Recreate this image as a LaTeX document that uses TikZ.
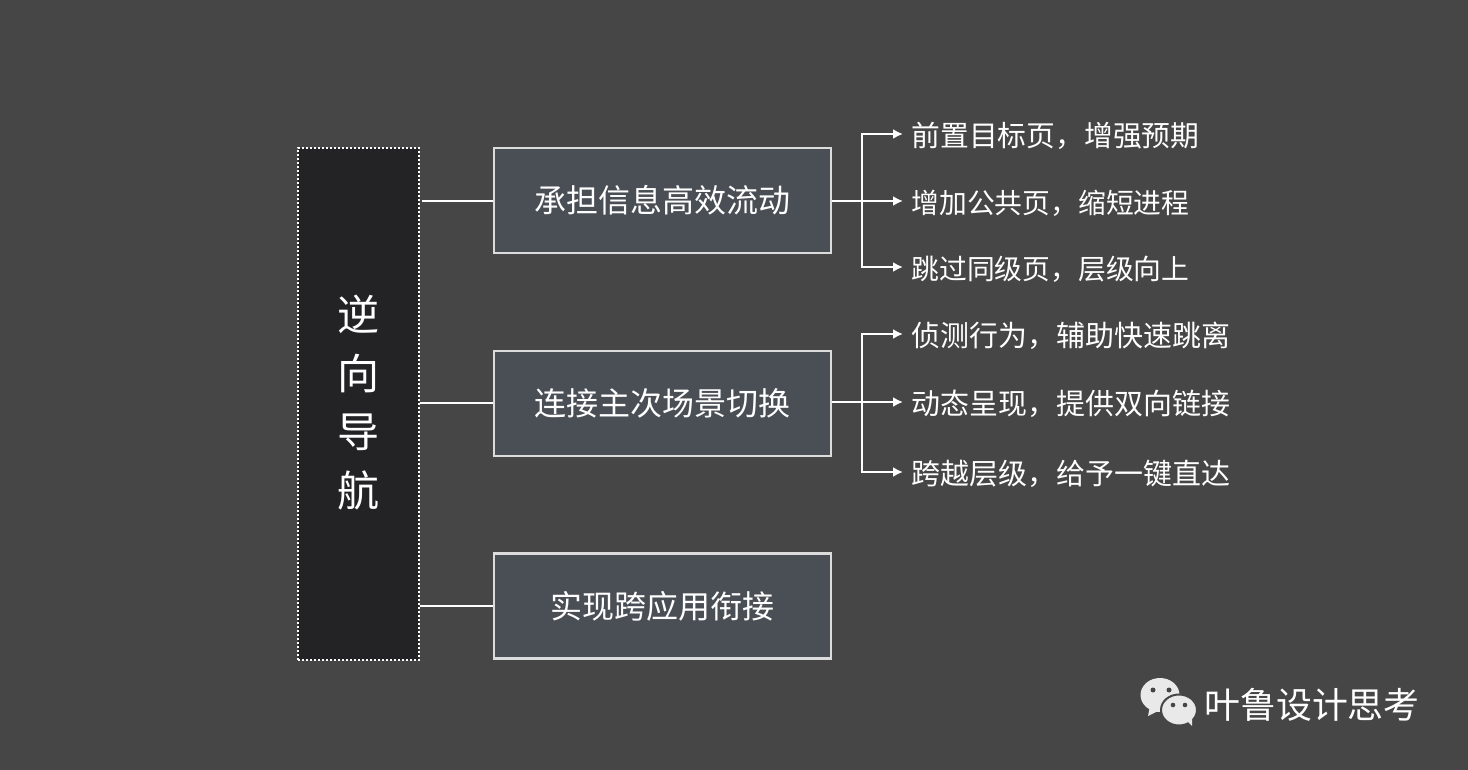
\documentclass[tikz,border=0pt]{standalone}
\usepackage{fontspec}
\setmainfont{Noto Sans CJK SC}
\usetikzlibrary{arrows.meta}
\definecolor{bgcolor}{HTML}{464646}
\definecolor{navcolor}{HTML}{232326}
\definecolor{boxcolor}{HTML}{4A4E55}
\definecolor{linecolor}{HTML}{FFFFFF}
\definecolor{edgecolor}{HTML}{DCDCDC}
\definecolor{iconcolor}{HTML}{E9E9E9}
\tikzstyle{navbox}=[draw=white,fill=navcolor,line width=1pt,dash pattern=on 1pt off 1pt,minimum width=60.5pt,minimum height=256pt,inner sep=0pt]
\tikzstyle{mainbox}=[draw=edgecolor,fill=boxcolor,line width=1.1pt,minimum width=168.5pt,minimum height=52.5pt,inner sep=0pt,text=white,font=\fontsize{16}{16}\selectfont]
\tikzstyle{sublabel}=[inner sep=4pt,text=white,anchor=west,text height=14pt,text depth=1.1pt,font=\fontsize{14.4}{14.4}\selectfont]
\tikzstyle{widelabel}=[sublabel,font=\fontsize{14.48}{14.48}\selectfont]
\tikzstyle{narrowlabel}=[sublabel,font=\fontsize{13.9}{13.9}\selectfont]
\tikzstyle{plainline}=[linecolor,line width=1pt]
\tikzstyle{arrowline}=[plainline,-{Latex[length=5pt,width=5pt]}]
\newcommand{\newbranch}[3]{
	\coordinate (#1trunk) at (862,0 |- #1mid.west);
	\draw[plainline] (#1.east |- #1mid.west) -- (#1trunk);
	\draw[arrowline] (#1trunk) |- (#2.west);
	\draw[arrowline] (#1trunk) -- (#1mid.west);
	\draw[arrowline] (#1trunk) |- (#3.west);
}
\begin{document}
\begin{tikzpicture}[x=0.5pt,y=-0.5pt]
	\useasboundingbox (0,0) rectangle (1468,770);
	\fill[bgcolor] (0,0) rectangle (1468,770);
	\node[navbox] (nav) at (358.5,404) {};
	\foreach \y/\t in {314/逆,373/向,432/导,490/航} {
		\node[text=white,font=\fontsize{21}{21}\selectfont] (nav\t) at (358.5,\y) {\t};
	}
	\node[mainbox] (info) at (662.5,200.5) {承担信息高效流动};
	\node[mainbox] (scene) at (662.5,403.5) {连接主次场景切换};
	\node[mainbox] (app) at (662.5,606) {实现跨应用衔接};
	% first group
	\node[sublabel] (infotop) at (903,134) {前置目标页，增强预期};
	\node[narrowlabel] (infomid) at (903,201) {增加公共页，缩短进程};
	\node[narrowlabel] (infolow) at (903,267) {跳过同级页，层级向上};
	% second group
	\node[widelabel] (scenetop) at (903,334) {侦测行为，辅助快速跳离};
	\node[widelabel] (scenemid) at (903,402) {动态呈现，提供双向链接};
	\node[widelabel] (scenelow) at (903,472) {跨越层级，给予一键直达};
	\newbranch{info}{infotop}{infolow}
	\newbranch{scene}{scenetop}{scenelow}
	\coordinate (navinfo) at (422,201);
	\coordinate (navscene) at (420,403);
	\coordinate (navapp) at (420,606);
	\draw[plainline] (navinfo) -- (navinfo -| info.west);
	\draw[plainline] (navscene) -- (navscene -| scene.west);
	\draw[plainline] (navapp) -- (navapp -| app.west);
	% wechat mark
	\fill[iconcolor] (1160,695) ellipse (19.5 and 17);
	\fill[iconcolor] (1150,706) -- (1148,716) -- (1160,710) -- cycle;
	\fill[bgcolor] (1153,690) circle (2.5);
	\fill[bgcolor] (1169,690) circle (2.5);
	\fill[iconcolor,draw=bgcolor,line width=1pt] (1179,710) ellipse (18 and 15.5);
	\fill[iconcolor] (1186,720) -- (1192,726) -- (1192,716) -- cycle;
	\fill[bgcolor] (1173,705) circle (2.3);
	\fill[bgcolor] (1185,705) circle (2.3);
	\node[text=white,inner sep=0pt,font=\fontsize{17.95}{17.95}\selectfont] (brand) at (1312,705) {叶鲁设计思考};
\end{tikzpicture}
\end{document}
